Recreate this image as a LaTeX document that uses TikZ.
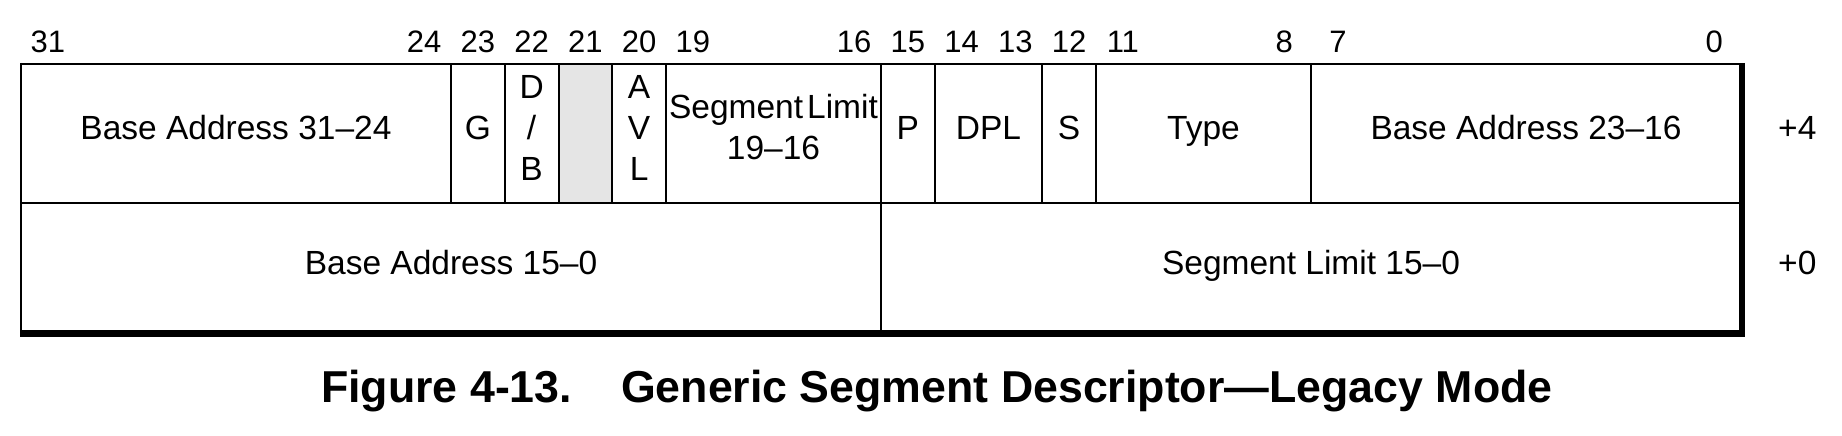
\documentclass[tikz,border=0pt]{standalone}
\usepackage{fontspec}
\setmainfont{Liberation Sans}
\begin{document}
\begin{tikzpicture}[x=1pt,y=-1pt,
  gridline/.style={line width=2pt},
  frameline/.style={line width=6.5pt},
  bitnum/.style={font=\fontsize{31}{31}\selectfont, anchor=base, inner sep=0pt},
  field/.style={font=\fontsize{33.5}{40}\selectfont, anchor=base, inner sep=0pt},
  offs/.style={font=\fontsize{33.5}{40}\selectfont, anchor=base west, inner sep=0pt},
  captxt/.style={font=\fontsize{44.7}{50}\selectfont\bfseries, anchor=base west, inner sep=0pt},
  reserved/.style={fill=black!10}]
\useasboundingbox (0,0) rectangle (1842,436);
% reserved bit 21
\fill[reserved] (558.5,64) rectangle (612.25,202.5);
% grid
\draw[gridline] (21,64) -- (1741,64);
\draw[gridline] (21,202.5) -- (1741,202.5);
\draw[gridline] (21,63) -- (21,333);
\foreach \x in {451,504.75,558.5,612.25,666,934.75,1042.25,1096,1311}
  \draw[gridline] (\x,64) -- (\x,202.5);
\draw[gridline] (881,64) -- (881,333);
\draw[frameline] (1742,63) -- (1742,333.5) -- (20,333.5);
% bit numbers
\node[bitnum] (n31) at (47.875,52.5) {31};
\node[bitnum] (n24) at (424.125,52.5) {24};
\node[bitnum] (n23) at (477.875,52.5) {23};
\node[bitnum] (n22) at (531.625,52.5) {22};
\node[bitnum] (n21) at (585.375,52.5) {21};
\node[bitnum] (n20) at (639.125,52.5) {20};
\node[bitnum] (n19) at (692.875,52.5) {19};
\node[bitnum] (n16) at (854.125,52.5) {16};
\node[bitnum] (n15) at (907.875,52.5) {15};
\node[bitnum] (n14) at (961.625,52.5) {14};
\node[bitnum] (n13) at (1015.375,52.5) {13};
\node[bitnum] (n12) at (1069.125,52.5) {12};
\node[bitnum] (n11) at (1122.875,52.5) {11};
\node[bitnum] (n8) at (1284.125,52.5) {8};
\node[bitnum] (n7) at (1337.875,52.5) {7};
\node[bitnum] (n0) at (1714.125,52.5) {0};
% upper doubleword fields
\node[field] (base3124) at (236,139) {Base Address 31–24};
\node[field] (g) at (477.875,139) {G};
\node[field] (db1) at (531.625,98) {D};
\node[field] (db2) at (531.625,139) {/};
\node[field] (db3) at (531.625,180) {B};
\node[field] (avl1) at (639.125,98) {A};
\node[field] (avl2) at (639.125,139) {V};
\node[field] (avl3) at (639.125,180) {L};
\node[field] (lim1) at (773.5,118) {Segment\hspace{0.12em}Limit};
\node[field] (lim2) at (773.5,159) {19–16};
\node[field] (p) at (907.875,139) {P};
\node[field] (dpl) at (988.5,139) {DPL};
\node[field] (s) at (1069.125,139) {S};
\node[field] (type) at (1203.5,139) {Type};
\node[field] (base2316) at (1526,139) {Base Address 23–16};
\node[offs] (off4) at (1778,139) {+4};
% lower doubleword fields
\node[field] (base150) at (451,274) {Base Address 15–0};
\node[field] (lim150) at (1311,274) {Segment Limit 15–0};
\node[offs] (off0) at (1778,274) {+0};
% caption
\node[captxt] (caption) at (321,402) {Figure 4-13.\hspace{49pt}Generic Segment Descriptor—Legacy Mode};
\end{tikzpicture}
\end{document}
